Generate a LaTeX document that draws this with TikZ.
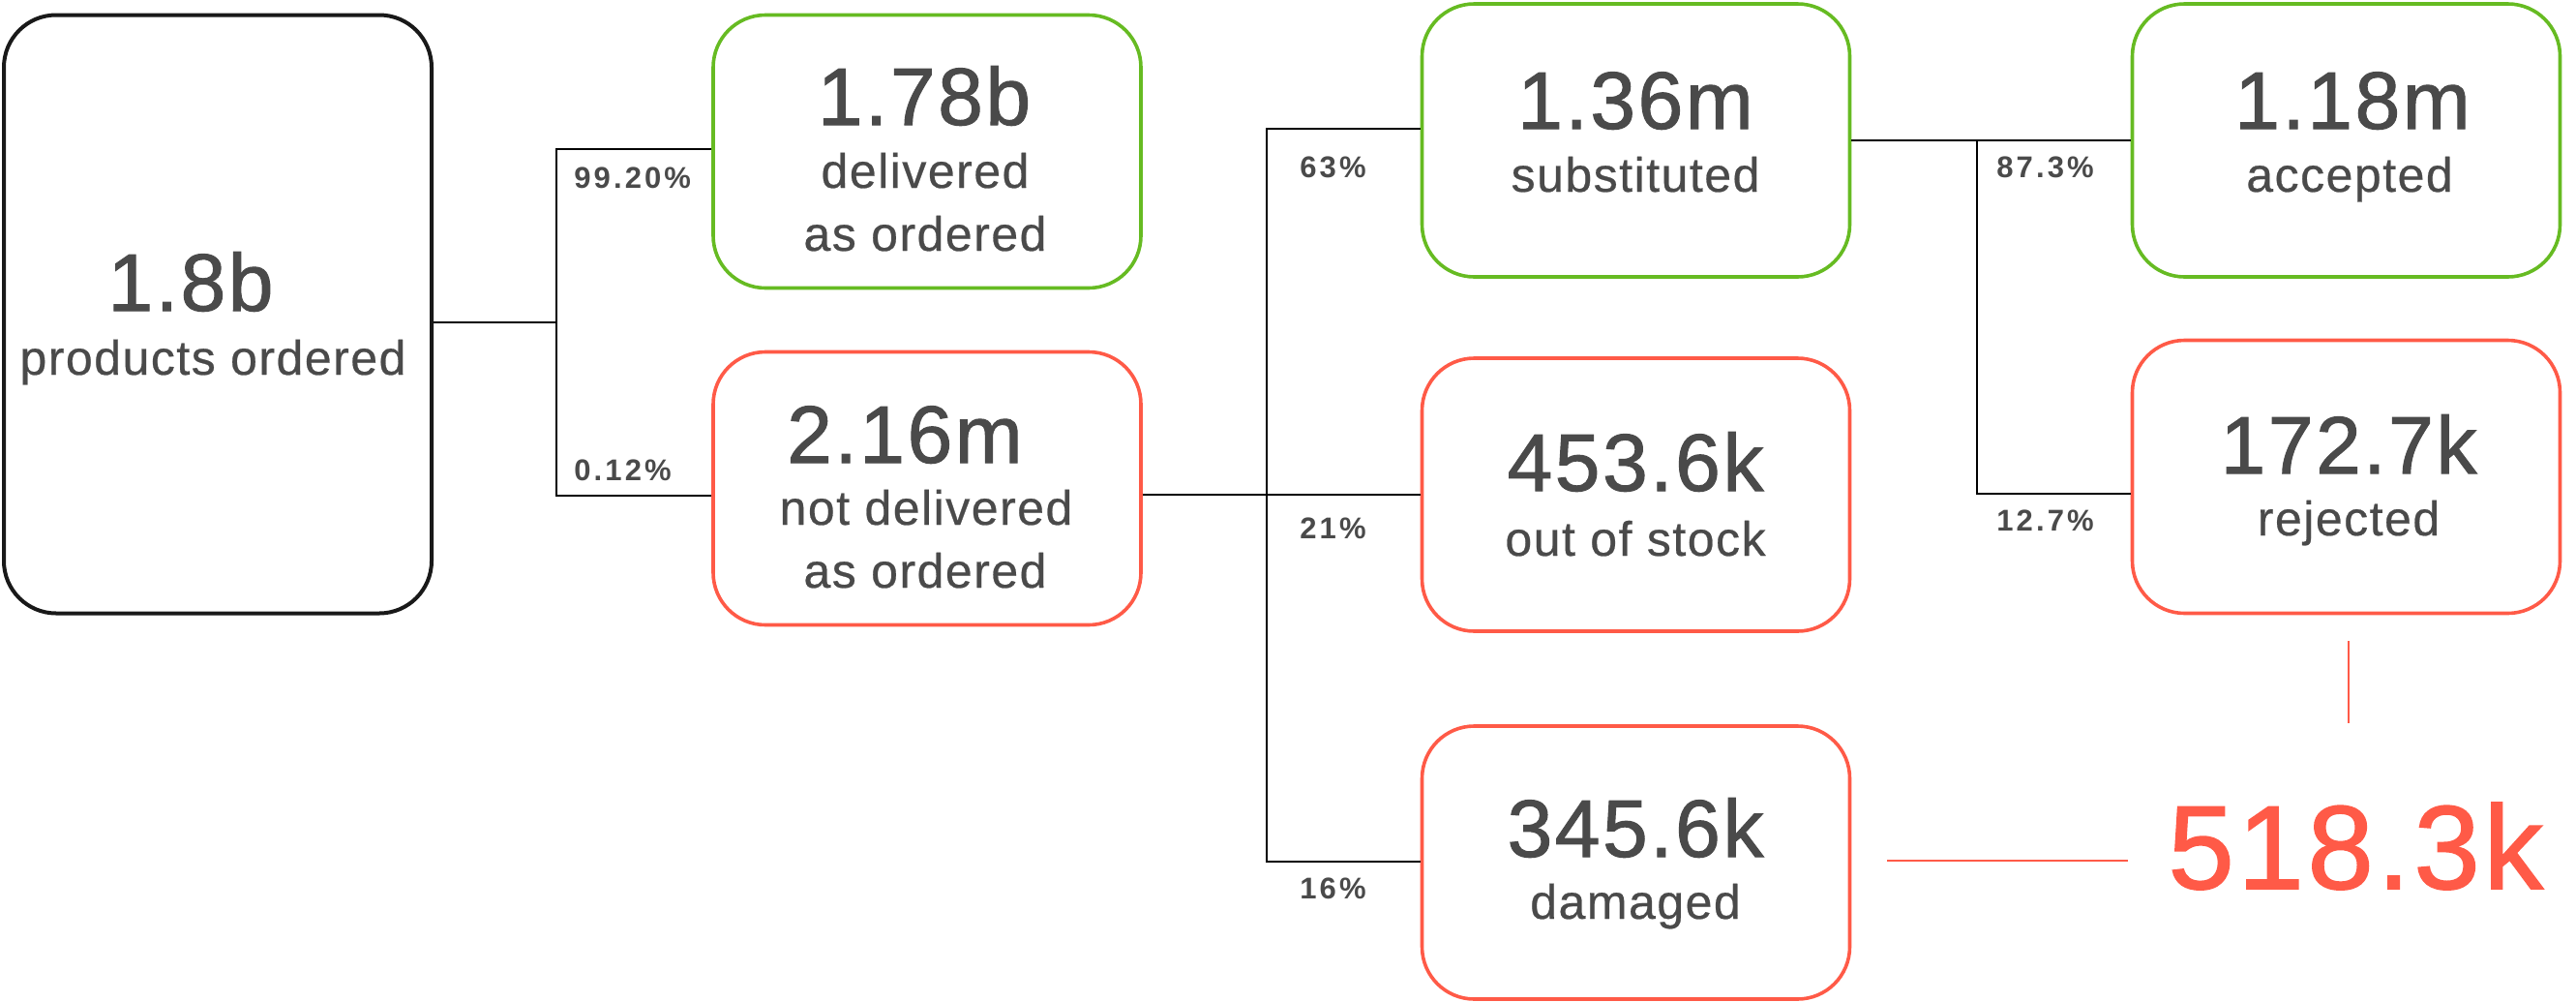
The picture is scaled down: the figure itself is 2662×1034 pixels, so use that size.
\documentclass[tikz,border=0pt]{standalone}
\usepackage{fontspec}
\setmainfont{Liberation Sans}
\newfontfamily\numfont[LetterSpace=3, FakeBold=1.2]{Liberation Sans}
\newfontfamily\lblfont[LetterSpace=3, FakeBold=0.5]{Liberation Sans}
\newfontfamily\pctfont[LetterSpace=10]{Liberation Sans}
\usetikzlibrary{positioning}

\definecolor{okgreen}{HTML}{66BB22}
\definecolor{badred}{HTML}{FF5A47}
\definecolor{textgray}{HTML}{4A4A4A}

\tikzset{
    box/.style={draw, rounded corners=27pt, minimum width=221pt, minimum height=141pt, line width=1.8pt, inner sep=0pt},
    goodbox/.style={box, draw=okgreen},
    badbox/.style={box, draw=badred},
    bigtxt/.style={anchor=base, text=textgray, font=\numfont\fontsize{42}{48}\selectfont, inner sep=0pt},
    lbltxt/.style={anchor=base, text=textgray, font=\lblfont\fontsize{25}{30}\selectfont, inner sep=0pt},
    pcttxt/.style={anchor=base west, text=textgray, font=\pctfont\bfseries\fontsize{15.5}{18}\selectfont, inner sep=0pt},
    link/.style={line width=1pt, black},
    sumline/.style={line width=0.8pt, badred},
}

\begin{document}
\begin{tikzpicture}[x=0.5pt, y=-0.5pt]

        \useasboundingbox (0,0) rectangle (2662,1034);

        % Bestellt
        \node[box, draw=black!90, line width=2pt, minimum height=309pt] (ordered) at (225,324.5) {};
        \node[bigtxt] at (197,321) {1.8b};
        \node[lbltxt] at (220,387) {products ordered};

        % Erste Stufe
        \node[goodbox] (delivered) at (958,156.5) {};
        \node[bigtxt] at (955,129) {1.78b};
        \node[lbltxt] at (956,194) {delivered};
        \node[lbltxt] at (956,259) {as ordered};

        \node[badbox] (notdel) at (958,504.5) {};
        \node[bigtxt] at (935,478) {2.16m};
        \node[lbltxt] at (957,542) {not delivered};
        \node[lbltxt] at (956,607) {as ordered};

        % Zweite Stufe
        \node[goodbox] (subst) at (1690.5,145) {};
        \node[bigtxt] at (1690,133) {1.36m};
        \node[lbltxt] at (1690,198) {substituted};

        \node[badbox] (stock) at (1690.5,511) {};
        \node[bigtxt] at (1690,507) {453.6k};
        \node[lbltxt] at (1690,574) {out of stock};

        \node[badbox] (damaged) at (1690.5,891) {};
        \node[bigtxt] at (1690,885) {345.6k};
        \node[lbltxt] at (1690,949) {damaged};

        % Dritte Stufe
        \node[goodbox] (accepted) at (2424.5,145) {};
        \node[bigtxt] at (2431,133) {1.18m};
        \node[lbltxt] at (2428,198) {accepted};

        \node[badbox] (rejected) at (2424.5,492.5) {};
        \node[bigtxt] at (2427,489) {172.7k};
        \node[lbltxt] at (2427,553) {rejected};

        % Verzweigungen
        \coordinate (top1) at (575,154);
        \coordinate (mid1) at (575,333);
        \coordinate (bot1) at (575,512);
        \coordinate (top2) at (1309,133);
        \coordinate (mid2) at (1309,511);
        \coordinate (bot2) at (1309,890);
        \coordinate (top3) at (2043,145);
        \coordinate (bot3) at (2043,510);

        \draw[link] (ordered.east |- mid1) -- (mid1);
        \draw[link] (delivered.west |- top1) -- (top1) -- (bot1) -- (notdel.west |- bot1);

        \draw[link] (notdel.east |- mid2) -- (stock.west |- mid2);
        \draw[link] (subst.west |- top2) -- (top2) -- (bot2) -- (damaged.west |- bot2);

        \draw[link] (subst.east |- top3) -- (accepted.west |- top3);
        \draw[link] (top3) -- (bot3) -- (rejected.west |- bot3);

        % Prozente
        \node[pcttxt] at (593,194) {99.20\%};
        \node[pcttxt] at (593,496) {0.12\%};
        \node[pcttxt] at (1343,183) {63\%};
        \node[pcttxt] at (1343,556) {21\%};
        \node[pcttxt] at (1343,928) {16\%};
        \node[pcttxt] at (2063,183) {87.3\%};
        \node[pcttxt] at (2063,548) {12.7\%};

        % Summe
        \node[anchor=base west, text=badred, inner sep=0pt, font=\numfont\fontsize{61.5}{70}\selectfont] (total) at (2240,918) {518.3k};
        \coordinate (sumtop) at (2427,747);
        \coordinate (sumleft) at (2199,889);
        \draw[sumline, shorten <=13.5pt] (rejected.south -| sumtop) -- (sumtop);
        \draw[sumline, shorten <=18.5pt] (damaged.east |- sumleft) -- (sumleft);

\end{tikzpicture}
\end{document}
